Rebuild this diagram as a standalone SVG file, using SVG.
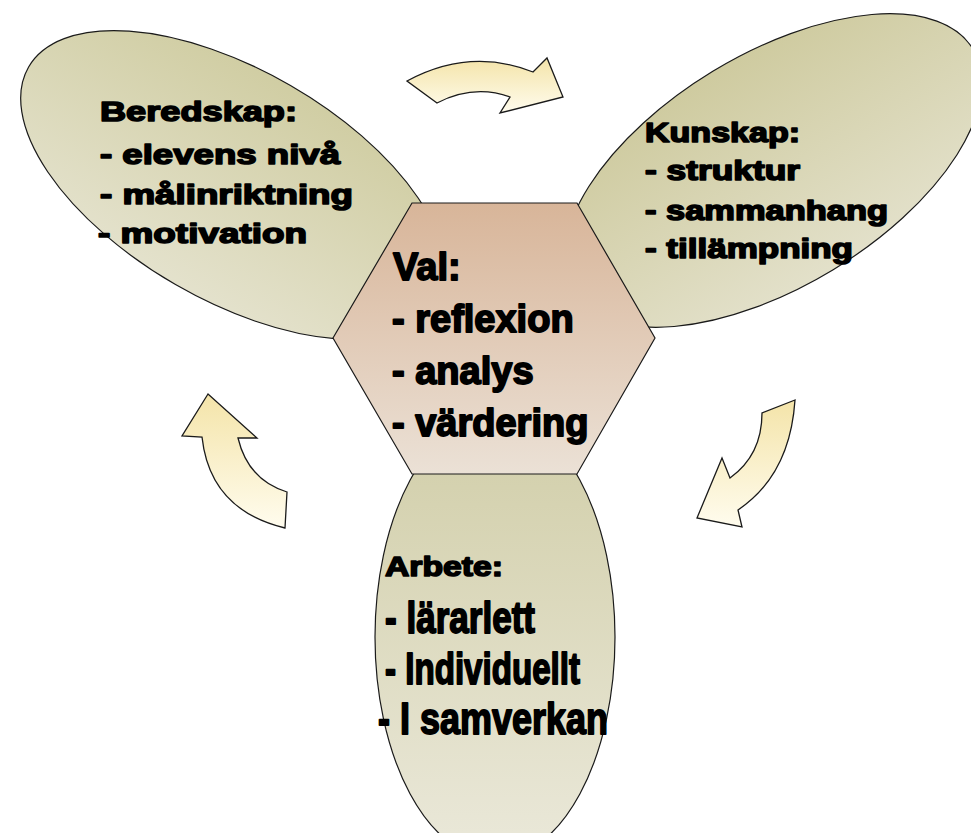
<svg xmlns="http://www.w3.org/2000/svg" width="971" height="833" viewBox="0 0 971 833">
  <defs>
    <linearGradient id="gLeft" gradientUnits="userSpaceOnUse" x1="0" y1="30" x2="0" y2="340">
      <stop offset="0" stop-color="#CDCA9C"/>
      <stop offset="1" stop-color="#E7E5D3"/>
    </linearGradient>
    <linearGradient id="gRight" gradientUnits="userSpaceOnUse" x1="0" y1="14" x2="0" y2="338">
      <stop offset="0" stop-color="#CBC798"/>
      <stop offset="1" stop-color="#E7E5D3"/>
    </linearGradient>
    <linearGradient id="gBottom" gradientUnits="userSpaceOnUse" x1="0" y1="470" x2="0" y2="833">
      <stop offset="0" stop-color="#D4D1AE"/>
      <stop offset="1" stop-color="#E9E7D7"/>
    </linearGradient>
    <linearGradient id="gHex" x1="0" y1="0" x2="0" y2="1">
      <stop offset="0" stop-color="#D8B599"/>
      <stop offset="1" stop-color="#EBE1D6"/>
    </linearGradient>
    <linearGradient id="gArrow" x1="0" y1="0" x2="0" y2="1">
      <stop offset="0" stop-color="#F4E4A9"/>
      <stop offset="1" stop-color="#FFFCEE"/>
    </linearGradient>
    <style>
      .shape { stroke: #1a1a1a; stroke-width: 1.2; }
      .arrow { fill: url(#gArrow); stroke: #1a1a1a; stroke-width: 1.3; stroke-linejoin: miter; }
      text { font-family: "Liberation Sans", Arial, sans-serif; font-weight: bold; fill: #000; stroke: #000; stroke-linejoin: round; }
      .s28 { font-size: 28px; stroke-width: 1.6; }
      .s38 { font-size: 38px; stroke-width: 1.8; }
      .s44 { font-size: 44px; stroke-width: 1.8; }
    </style>
  </defs>

  <g id="connectors">
    <path class="arrow" d="M 407,81 Q 470,47 533,72 L 547,58 L 563,97 L 500,113 L 510,97 Q 474,84 437,103 Z"/>
    <path class="arrow" d="M 795,400 L 762,413 Q 762,455 730,478 L 722,458 L 697,518 L 742,527 L 738,510 Q 790,475 795,400 Z"/>
    <path class="arrow" d="M 208,394 L 182,436 L 202,437 Q 210,510 285,528 L 287,492 Q 248,480 238,438 L 257,438 Z"/>
  </g>

  <g id="node-beredskap">
    <ellipse class="shape" cx="233" cy="185" rx="236" ry="115" transform="rotate(30 233 185)" fill="url(#gLeft)"/>
    <text class="s28" x="100" y="121" textLength="197" lengthAdjust="spacingAndGlyphs">Beredskap:</text>
    <text class="s28" x="100" y="164" textLength="240" lengthAdjust="spacingAndGlyphs">- elevens nivå</text>
    <text class="s28" x="100" y="204" textLength="253" lengthAdjust="spacingAndGlyphs">- målinriktning</text>
    <text class="s28" x="98" y="243" textLength="209" lengthAdjust="spacingAndGlyphs">- motivation</text>
  </g>

  <g id="node-kunskap">
    <ellipse class="shape" cx="773" cy="170.5" rx="234" ry="116" transform="rotate(-31.26 773 170.5)" fill="url(#gRight)"/>
    <text class="s28" x="645" y="142" textLength="155" lengthAdjust="spacingAndGlyphs">Kunskap:</text>
    <text class="s28" x="645" y="180" textLength="155" lengthAdjust="spacingAndGlyphs">- struktur</text>
    <text class="s28" x="645" y="220" textLength="243" lengthAdjust="spacingAndGlyphs">- sammanhang</text>
    <text class="s28" x="645" y="258" textLength="208" lengthAdjust="spacingAndGlyphs">- tillämpning</text>
  </g>

  <g id="node-arbete">
    <ellipse class="shape" cx="495" cy="637" rx="120" ry="222" fill="url(#gBottom)"/>
    <text class="s28" x="385" y="576" textLength="118" lengthAdjust="spacingAndGlyphs">Arbete:</text>
    <text class="s44" x="385" y="633" textLength="150" lengthAdjust="spacingAndGlyphs">- lärarlett</text>
    <text class="s44" x="385" y="684" textLength="195" lengthAdjust="spacingAndGlyphs">- Individuellt</text>
    <text class="s44" x="378" y="734" textLength="230" lengthAdjust="spacingAndGlyphs">- I samverkan</text>
  </g>

  <g id="node-val">
    <polygon class="shape" points="412,203 577,203 655,338 577,474 412,474 333,338" fill="url(#gHex)"/>
    <text class="s38" x="393" y="280">Val:</text>
    <text class="s38" x="392" y="332">- reflexion</text>
    <text class="s38" x="392" y="384">- analys</text>
    <text class="s38" x="392" y="436">- värdering</text>
  </g>
</svg>
